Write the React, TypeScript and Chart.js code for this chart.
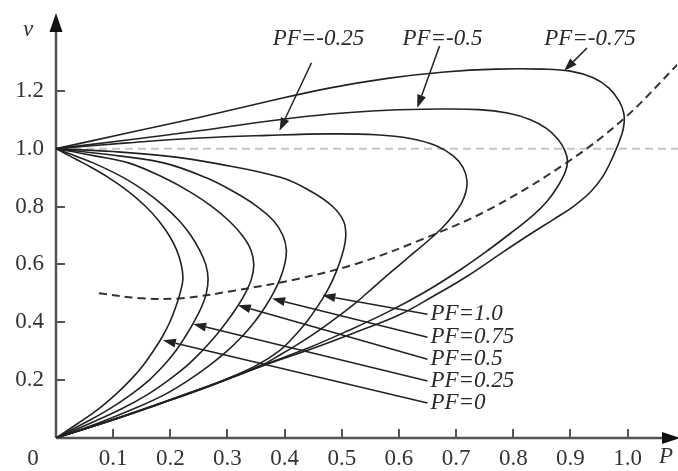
import React, { useEffect, useRef } from "react";
import { Chart, registerables } from "chart.js";

Chart.register(...registerables);

// ---- axis ticks ----
const xTicks = [0.1, 0.2, 0.3, 0.4, 0.5, 0.6, 0.7, 0.8, 0.9, 1.0];
const xTickLabels = ["0.1", "0.2", "0.3", "0.4", "0.5", "0.6", "0.7", "0.8", "0.9", "1.0"];
const yTicks = [0.2, 0.4, 0.6, 0.8, 1.0, 1.2];
const yTickLabels = ["0.2", "0.4", "0.6", "0.8", "1.0", "1.2"];
const originLabel = "0";
const xAxisName = "P";
const yAxisName = "v";
const refVoltage = 1.0;

// ---- lagging-group nose curves: P read at common voltage levels ----
const lowerV = [0, 0.05, 0.1, 0.15, 0.2, 0.25, 0.3, 0.35, 0.4, 0.45, 0.5, 0.55, 0.6, 0.65, 0.7, 0.75, 0.8, 0.85, 0.9, 0.95, 0.975, 0.99, 1.0];
const pf0P = [0, 0.038, 0.074, 0.104, 0.13, 0.152, 0.17, 0.186, 0.199, 0.209, 0.217, 0.222, 0.219, 0.211, 0.198, 0.18, 0.157, 0.128, 0.092, 0.048, 0.024, 0.0095, 0];
const pf025P = [0, 0.048, 0.093, 0.131, 0.163, 0.188, 0.209, 0.226, 0.241, 0.254, 0.263, 0.266, 0.262, 0.251, 0.236, 0.216, 0.19, 0.158, 0.118, 0.066, 0.034, 0.013, 0];
const pf05P = [0, 0.059, 0.114, 0.16, 0.197, 0.229, 0.255, 0.278, 0.298, 0.316, 0.331, 0.342, 0.346, 0.341, 0.326, 0.303, 0.273, 0.235, 0.188, 0.128, 0.068, 0.028, 0];
const pf075P = [0, 0.072, 0.135, 0.19, 0.232, 0.268, 0.299, 0.325, 0.347, 0.365, 0.38, 0.392, 0.4, 0.403, 0.397, 0.381, 0.352, 0.312, 0.262, 0.19, 0.11, 0.045, 0];
const pf1P = [0, 0.079, 0.154, 0.225, 0.293, 0.35, 0.39, 0.416, 0.438, 0.456, 0.472, 0.485, 0.495, 0.503, 0.507, 0.503, 0.484, 0.448, 0.394, 0.276, 0.19, 0.1, 0];

// ---- leading-group nose curves (P, V) ----
const pfm025P = [0, 0.125, 0.25, 0.37, 0.48, 0.56, 0.62, 0.665, 0.695, 0.712, 0.719, 0.717, 0.709, 0.695, 0.675, 0.65, 0.62, 0.59, 0.555, 0.52, 0.49, 0.455, 0.42, 0.39, 0.36, 0.27, 0.18, 0.09, 0];
const pfm025V = [1.0, 1.02, 1.037, 1.046, 1.051, 1.048, 1.035, 1.01, 0.975, 0.935, 0.89, 0.85, 0.81, 0.77, 0.725, 0.68, 0.63, 0.58, 0.52, 0.46, 0.415, 0.365, 0.32, 0.285, 0.252, 0.182, 0.118, 0.057, 0];

const pfm05P = [0, 0.125, 0.25, 0.37, 0.48, 0.58, 0.67, 0.74, 0.79, 0.83, 0.858, 0.877, 0.89, 0.895, 0.89, 0.878, 0.86, 0.835, 0.8, 0.76, 0.71, 0.65, 0.58, 0.51, 0.44, 0.36, 0.27, 0.18, 0.09, 0];
const pfm05V = [1.0, 1.03, 1.062, 1.095, 1.12, 1.133, 1.137, 1.135, 1.123, 1.1, 1.07, 1.035, 0.995, 0.955, 0.915, 0.87, 0.82, 0.77, 0.715, 0.655, 0.585, 0.51, 0.435, 0.37, 0.31, 0.25, 0.181, 0.117, 0.056, 0];

const pfm075P = [0, 0.125, 0.25, 0.37, 0.48, 0.58, 0.68, 0.77, 0.85, 0.9, 0.94, 0.967, 0.985, 0.993, 0.994, 0.99, 0.975, 0.957, 0.935, 0.905, 0.87, 0.83, 0.78, 0.72, 0.66, 0.6, 0.53, 0.45, 0.36, 0.27, 0.18, 0.09, 0];
const pfm075V = [1.0, 1.054, 1.108, 1.163, 1.21, 1.243, 1.265, 1.275, 1.275, 1.268, 1.245, 1.21, 1.165, 1.125, 1.09, 1.05, 0.975, 0.905, 0.85, 0.8, 0.755, 0.705, 0.64, 0.56, 0.49, 0.425, 0.37, 0.31, 0.248, 0.18, 0.117, 0.056, 0];

// ---- critical-point locus (dashed) ----
const locusP = [0.075, 0.15, 0.22, 0.314, 0.43, 0.53, 0.636, 0.759, 0.893, 0.995, 1.087];
const locusV = [0.5, 0.483, 0.483, 0.51, 0.553, 0.605, 0.683, 0.791, 0.951, 1.106, 1.29];

// ---- arrow labels (data units) ----
const arrowLabels = ["PF=-0.25", "PF=-0.5", "PF=-0.75", "PF=1.0", "PF=0.75", "PF=0.5", "PF=0.25", "PF=0"];
const labelP = [0.379, 0.606, 0.854, 0.655, 0.655, 0.655, 0.655, 0.655];
const labelV = [1.379, 1.379, 1.379, 0.428, 0.348, 0.272, 0.197, 0.121];
const arrowFromP = [0.447, 0.671, 0.929, 0.65, 0.65, 0.65, 0.65, 0.65];
const arrowFromV = [1.297, 1.355, 1.348, 0.428, 0.348, 0.272, 0.197, 0.121];
const arrowToP = [0.391, 0.632, 0.889, 0.466, 0.378, 0.318, 0.24, 0.187];
const arrowToV = [1.062, 1.141, 1.269, 0.493, 0.482, 0.459, 0.394, 0.338];

const zip = (p: number[], v: number[]) => p.map((x, i) => ({ x, y: v[i] }));

const SERIF = '"Liberation Serif", "Times New Roman", Times, serif';

const axesPlugin = {
  id: "customAxes",
  beforeDatasetsDraw(chart: any) {
    const { ctx } = chart;
    const xs = chart.scales.x;
    const ys = chart.scales.y;
    const x0 = xs.getPixelForValue(0);
    const y0 = ys.getPixelForValue(0);
    const right = chart.width;
    ctx.save();
    // reference line V = 1.0
    ctx.strokeStyle = "#c6c6c6";
    ctx.lineWidth = 2;
    ctx.setLineDash([8, 5]);
    const yr = ys.getPixelForValue(refVoltage);
    ctx.beginPath();
    ctx.moveTo(x0 + 4, yr);
    ctx.lineTo(right, yr);
    ctx.stroke();
    ctx.setLineDash([]);

    // axes
    ctx.strokeStyle = "#555";
    ctx.lineWidth = 2.5;
    ctx.beginPath();
    ctx.moveTo(x0, y0);
    ctx.lineTo(x0, 28);
    ctx.moveTo(x0, y0);
    ctx.lineTo(right - 14, y0);
    ctx.stroke();
    ctx.fillStyle = "#111";
    ctx.beginPath();
    ctx.moveTo(x0, 13);
    ctx.lineTo(x0 - 6.5, 32);
    ctx.lineTo(x0 + 6.5, 32);
    ctx.closePath();
    ctx.fill();
    ctx.beginPath();
    ctx.moveTo(right + 2, y0);
    ctx.lineTo(right - 16, y0 - 6);
    ctx.lineTo(right - 16, y0 + 6);
    ctx.closePath();
    ctx.fill();

    // ticks
    ctx.strokeStyle = "#555";
    ctx.lineWidth = 2;
    ctx.beginPath();
    xTicks.forEach((t) => {
      const px = Math.round(xs.getPixelForValue(t));
      ctx.moveTo(px, y0);
      ctx.lineTo(px, y0 - 9);
    });
    yTicks.forEach((t) => {
      const py = Math.round(ys.getPixelForValue(t));
      ctx.moveTo(x0, py);
      ctx.lineTo(x0 + 9, py);
    });
    ctx.stroke();

    // tick labels
    ctx.fillStyle = "#333";
    ctx.font = `23px ${SERIF}`;
    ctx.textBaseline = "middle";
    ctx.textAlign = "center";
    xTicks.forEach((t, i) => {
      ctx.fillText(xTickLabels[i], xs.getPixelForValue(t), y0 + 21);
    });
    ctx.fillText(originLabel, x0 - 23, y0 + 21);
    ctx.textAlign = "right";
    yTicks.forEach((t, i) => {
      ctx.fillText(yTickLabels[i], x0 - 12, ys.getPixelForValue(t));
    });
    ctx.font = `italic 23px ${SERIF}`;
    ctx.textAlign = "center";
    ctx.fillText(xAxisName, right - 12, y0 + 19);
    ctx.fillText(yAxisName, x0 - 28, 30);
    ctx.restore();
  },
  afterDatasetsDraw(chart: any) {
    const { ctx } = chart;
    const xs = chart.scales.x;
    const ys = chart.scales.y;
    ctx.save();
    ctx.strokeStyle = "#222";
    ctx.fillStyle = "#222";
    ctx.lineWidth = 1.5;
    arrowLabels.forEach((_, i) => {
      const fx = xs.getPixelForValue(arrowFromP[i]);
      const fy = ys.getPixelForValue(arrowFromV[i]);
      const tx = xs.getPixelForValue(arrowToP[i]);
      const ty = ys.getPixelForValue(arrowToV[i]);
      const ang = Math.atan2(ty - fy, tx - fx);
      const len = 13;
      const hw = 4.5;
      const bx = tx - len * Math.cos(ang);
      const by = ty - len * Math.sin(ang);
      ctx.beginPath();
      ctx.moveTo(fx, fy);
      ctx.lineTo(bx, by);
      ctx.stroke();
      ctx.beginPath();
      ctx.moveTo(tx, ty);
      ctx.lineTo(bx + hw * Math.sin(ang), by - hw * Math.cos(ang));
      ctx.lineTo(bx - hw * Math.sin(ang), by + hw * Math.cos(ang));
      ctx.closePath();
      ctx.fill();
    });
    ctx.fillStyle = "#2a2a2a";
    ctx.font = `italic 23px ${SERIF}`;
    ctx.textAlign = "left";
    ctx.textBaseline = "middle";
    arrowLabels.forEach((txt, i) => {
      ctx.fillText(txt, xs.getPixelForValue(labelP[i]), ys.getPixelForValue(labelV[i]));
    });
    ctx.restore();
  },
};

export default function App() {
  const canvasRef = useRef<HTMLCanvasElement | null>(null);

  useEffect(() => {
    const canvas = canvasRef.current;
    if (!canvas) return;
    const curve = (label: string, p: number[], v: number[]) => ({
      label,
      data: zip(p, v),
      showLine: true,
      borderColor: "#222",
      borderWidth: 1.6,
      pointRadius: 0,
      fill: false,
      tension: 0.4,
    });
    const chart = new Chart(canvas, {
      type: "scatter",
      data: {
        datasets: [
          curve("PF=0", pf0P, lowerV),
          curve("PF=0.25", pf025P, lowerV),
          curve("PF=0.5", pf05P, lowerV),
          curve("PF=0.75", pf075P, lowerV),
          curve("PF=1.0", pf1P, lowerV),
          curve("PF=-0.25", pfm025P, pfm025V),
          curve("PF=-0.5", pfm05P, pfm05V),
          curve("PF=-0.75", pfm075P, pfm075V),
          {
            label: "locus",
            data: zip(locusP, locusV),
            showLine: true,
            borderColor: "#333",
            borderWidth: 2,
            borderDash: [8, 5],
            pointRadius: 0,
            fill: false,
            tension: 0.35,
          },
        ],
      },
      options: {
        responsive: false,
        maintainAspectRatio: false,
        animation: false,
        devicePixelRatio: 1,
        layout: { padding: { left: 56, right: 0, top: 0, bottom: 33 } },
        plugins: { legend: { display: false }, tooltip: { enabled: false } },
        scales: {
          x: { type: "linear", min: 0, max: 622 / 572.5, display: false },
          y: { type: "linear", min: 0, max: 438 / 290, display: false },
        },
      },
      plugins: [axesPlugin],
    } as any);
    let alive = true;
    const fonts: any = (document as any).fonts;
    if (fonts && fonts.load) {
      Promise.all([
        fonts.load('23px "Liberation Serif"'),
        fonts.load('italic 23px "Liberation Serif"'),
      ])
        .catch(() => null)
        .then(() => {
          if (alive) chart.update();
        });
    }
    return () => {
      alive = false;
      chart.destroy();
    };
  }, []);

  return (
    <div style={{ position: "fixed", left: 0, top: 0, width: 678, height: 471, background: "#fff" }}>
      <canvas ref={canvasRef} width={678} height={471} style={{ display: "block" }} />
      <span style={{ position: "absolute", left: -9999, top: 0, fontFamily: '"Liberation Serif"' }}>
        0.1 <i>PF</i>
      </span>
    </div>
  );
}
